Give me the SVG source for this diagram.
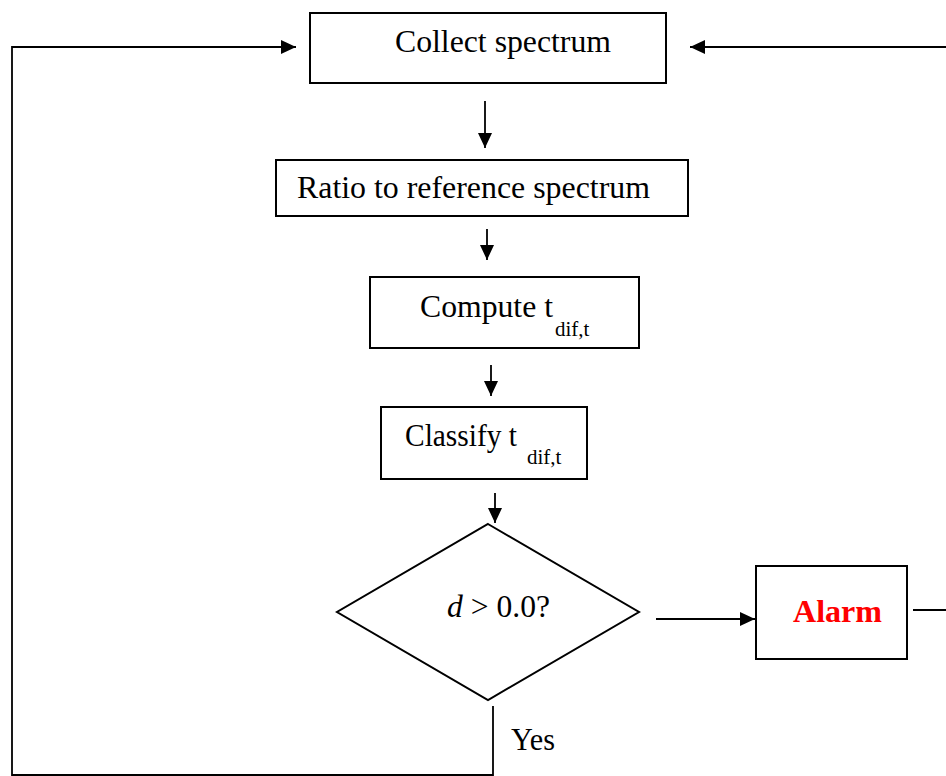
<svg xmlns="http://www.w3.org/2000/svg" width="946" height="776" viewBox="0 0 946 776">
<style>
.box{fill:#fff;stroke:#000;stroke-width:2}
.ln{fill:none;stroke:#000;stroke-width:1.8}
.t{font-family:"Liberation Serif","Times New Roman",serif;font-size:31px;fill:#000}
.sub{font-family:"Liberation Serif","Times New Roman",serif;font-size:21px;fill:#000}
.alarm{font-family:"Liberation Serif","Times New Roman",serif;font-size:32px;font-weight:bold;fill:#ff0000}
</style>
<defs>
<marker id="ah" markerUnits="userSpaceOnUse" markerWidth="15" markerHeight="14" refX="15" refY="7" orient="auto">
<path d="M0,0 L15,7 L0,14 z" fill="#000"/>
</marker>
</defs>
<rect width="946" height="776" fill="#fff"/>
<g id="connectors">
<polyline class="ln" points="493,706 493,775 12,775 12,47 296,47" marker-end="url(#ah)"/>
<line class="ln" x1="946" y1="47" x2="690" y2="47" marker-end="url(#ah)"/>
<line class="ln" x1="485" y1="101" x2="485" y2="148" marker-end="url(#ah)"/>
<line class="ln" x1="487" y1="229" x2="487" y2="260" marker-end="url(#ah)"/>
<line class="ln" x1="491" y1="365" x2="491" y2="396" marker-end="url(#ah)"/>
<line class="ln" x1="495" y1="493" x2="495" y2="523" marker-end="url(#ah)"/>
<line class="ln" x1="656" y1="619" x2="755" y2="619" marker-end="url(#ah)"/>
<line class="ln" x1="913" y1="610" x2="946" y2="610"/>
<text class="t" x="511" y="750" textLength="44" lengthAdjust="spacingAndGlyphs">Yes</text>
</g>
<g id="collect">
<rect class="box" x="310" y="13" width="356" height="70"/>
<text class="t" x="395" y="52" textLength="216" lengthAdjust="spacingAndGlyphs">Collect spectrum</text>
</g>
<g id="ratio">
<rect class="box" x="276" y="160" width="412" height="56"/>
<text class="t" x="297" y="198" textLength="353" lengthAdjust="spacingAndGlyphs">Ratio to reference spectrum</text>
</g>
<g id="compute">
<rect class="box" x="370" y="277" width="269" height="71"/>
<text class="t" x="420" y="317" textLength="133" lengthAdjust="spacingAndGlyphs">Compute t</text>
<text class="sub" x="555" y="336">dif,t</text>
</g>
<g id="classify">
<rect class="box" x="381" y="407" width="206" height="72"/>
<text class="t" x="405" y="446" textLength="112" lengthAdjust="spacingAndGlyphs">Classify t</text>
<text class="sub" x="527" y="464">dif,t</text>
</g>
<g id="decision">
<polygon class="box" points="488,524 639,612 488,700 337,612"/>
<text class="t" x="447" y="617" textLength="103" lengthAdjust="spacingAndGlyphs"><tspan font-style="italic">d</tspan> &gt; 0.0?</text>
</g>
<g id="alarm">
<rect class="box" x="756" y="566" width="151" height="93"/>
<text class="alarm" x="793" y="622" textLength="89" lengthAdjust="spacingAndGlyphs">Alarm</text>
</g>
</svg>
